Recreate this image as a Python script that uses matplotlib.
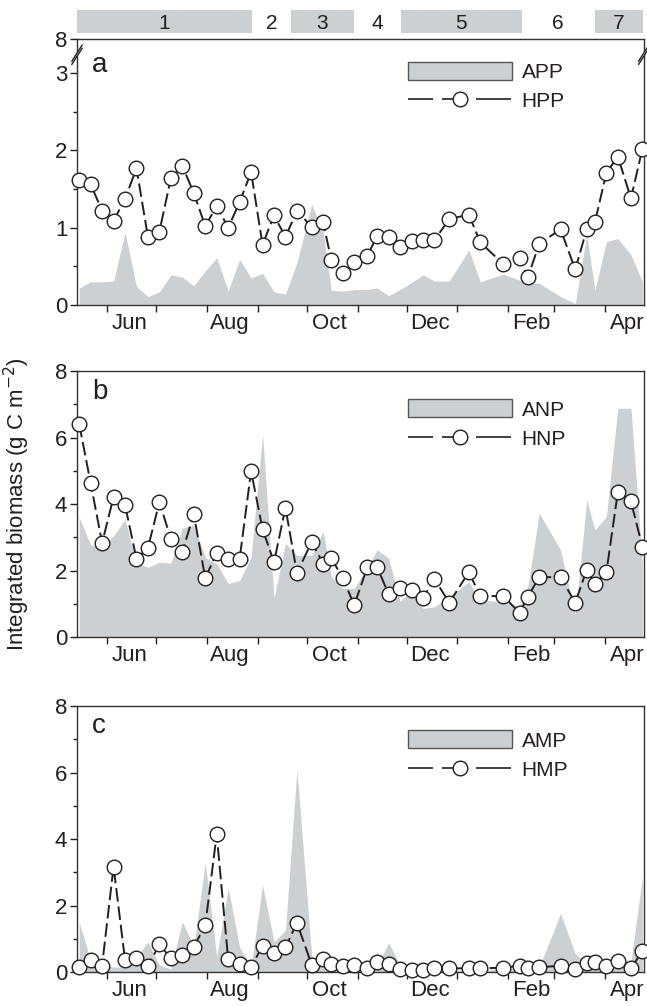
import matplotlib
matplotlib.use('Agg')
import matplotlib.pyplot as plt
import matplotlib.dates as mdates
from matplotlib.patches import Patch, Polygon
from matplotlib.lines import Line2D
import pandas as pd

plt.rcParams['font.family'] = ['Liberation Sans', 'DejaVu Sans']

# sampling dates (weekly cruises)
dates = pd.to_datetime([
    '2000-05-15', '2000-05-22', '2000-05-29', '2000-06-05', '2000-06-12',
    '2000-06-19', '2000-06-26', '2000-07-03', '2000-07-10', '2000-07-17',
    '2000-07-24', '2000-07-31', '2000-08-07', '2000-08-14', '2000-08-21',
    '2000-08-28', '2000-09-04', '2000-09-11', '2000-09-18', '2000-09-25',
    '2000-10-04', '2000-10-11', '2000-10-16', '2000-10-23', '2000-10-30',
    '2000-11-07', '2000-11-13', '2000-11-20', '2000-11-27', '2000-12-04',
    '2000-12-11', '2000-12-18', '2000-12-27', '2001-01-08', '2001-01-15',
    '2001-01-29', '2001-02-08', '2001-02-13', '2001-02-20', '2001-03-05',
    '2001-03-14', '2001-03-21', '2001-03-26', '2001-04-02', '2001-04-09',
    '2001-04-17', '2001-04-24'])

app = [0.22, 0.30, 0.30, 0.31, 0.94, 0.24, 0.11, 0.17, 0.39, 0.36,
       0.25, 0.44, 0.61, 0.18, 0.59, 0.35, 0.41, 0.17, 0.14, 0.55,
       1.30, 0.95, 0.19, 0.18, 0.20, 0.20, 0.22, 0.12, 0.20, 0.29,
       0.39, 0.31, 0.31, 0.71, 0.30, 0.40, 0.32, 0.30, 0.28, 0.11,
       0.02, 0.91, 0.19, 0.82, 0.86, 0.65, 0.30]
hpp = [1.62, 1.56, 1.22, 1.09, 1.37, 1.77, 0.88, 0.95, 1.64, 1.80,
       1.45, 1.02, 1.28, 1.00, 1.33, 1.72, 0.78, 1.16, 0.88, 1.22,
       1.01, 1.07, 0.58, 0.41, 0.56, 0.64, 0.89, 0.88, 0.75, 0.83,
       0.84, 0.84, 1.11, 1.17, 0.81, 0.53, 0.61, 0.36, 0.79, 0.98,
       0.46, 0.98, 1.07, 1.71, 1.92, 1.38, 2.02]

anp = [3.60, 2.77, 2.70, 3.04, 3.54, 2.22, 2.10, 2.25, 2.22, 3.27,
       3.37, 2.40, 2.20, 1.61, 1.70, 2.40, 6.10, 1.16, 2.82, 2.45,
       2.45, 3.17, 1.81, 1.46, 1.46, 2.11, 2.62, 2.37, 1.06, 1.41,
       0.86, 0.91, 1.21, 1.66, 1.11, 1.06, 0.91, 1.50, 3.72, 2.62,
       0.66, 4.12, 3.22, 3.62, 6.88, 6.88, 2.22]
hnp = [6.41, 4.63, 2.83, 4.21, 3.97, 2.35, 2.68, 4.06, 2.95, 2.56,
       3.70, 1.77, 2.53, 2.35, 2.35, 4.99, 3.24, 2.25, 3.89, 1.92,
       2.86, 2.21, 2.37, 1.77, 0.96, 2.10, 2.10, 1.29, 1.48, 1.41,
       1.17, 1.75, 1.03, 1.95, 1.23, 1.23, 0.73, 1.21, 1.80, 1.80,
       1.03, 2.03, 1.59, 1.95, 4.36, 4.08, 2.71]

amp = [1.51, 0.35, 0.20, 0.15, 0.15, 0.45, 0.91, 0.20, 0.10, 1.51,
       0.76, 3.30, 0.46, 2.52, 0.75, 0.15, 2.62, 0.91, 1.26, 6.10,
       0.50, 0.15, 0.10, 0.10, 0.10, 0.10, 0.15, 0.88, 0.20, 0.10,
       0.05, 0.05, 0.05, 0.05, 0.05, 0.10, 0.10, 0.10, 0.15, 1.76,
       0.55, 0.25, 0.20, 0.15, 0.20, 0.30, 2.87]
hmp = [0.14, 0.36, 0.19, 3.17, 0.36, 0.41, 0.18, 0.83, 0.41, 0.50,
       0.76, 1.40, 4.14, 0.38, 0.24, 0.14, 0.79, 0.56, 0.74, 1.48,
       0.22, 0.38, 0.24, 0.18, 0.20, 0.12, 0.30, 0.24, 0.10, 0.06,
       0.06, 0.11, 0.11, 0.11, 0.11, 0.13, 0.19, 0.13, 0.14, 0.19,
       0.08, 0.28, 0.29, 0.19, 0.34, 0.11, 0.63]

# hydrographic periods shown above panel a
period_names = ['1', '2', '3', '4', '5', '6', '7']
period_edges = pd.to_datetime([
    '2000-05-13 16:00', '2000-08-28 12:00', '2000-09-21 08:00',
    '2000-10-29 20:00', '2000-11-27 12:00', '2001-02-09 08:00',
    '2001-03-25 20:00', '2001-04-24 08:00'])
period_shaded = [True, False, True, False, True, False, True]

month_labels = ['Jun', 'Aug', 'Oct', 'Dec', 'Feb', 'Apr']
month_label_dates = pd.to_datetime(['2000-06-15', '2000-08-15', '2000-10-15',
                                    '2000-12-15', '2001-02-15', '2001-04-15'])

panels = [('a', app, hpp, 'APP', 'HPP'),
          ('b', anp, hnp, 'ANP', 'HNP'),
          ('c', amp, hmp, 'AMP', 'HMP')]

gray = '#cdd0d3'
ink = '#231f20'
dash = (0, (7, 2.5))
xlim = (pd.Timestamp('2000-05-13 16:00'), pd.Timestamp('2001-04-24 20:00'))

fig = plt.figure(figsize=(6.47, 10.06), dpi=100)
left, width, height = 0.119, 0.876, 0.2644
bottoms = [0.6968, 0.3668, 0.0338]
legend_tops = [0.915, 0.893, 0.908]
letter_y = [0.875, 0.895, 0.90]

for i, (letter, area, pts, area_lab, pts_lab) in enumerate(panels):
    ax = fig.add_axes([left, bottoms[i], width, height])
    ax.fill_between(dates, 0, area, color=gray, lw=0, zorder=1)
    ax.plot(dates, pts, ls=dash, color=ink, lw=1.4, marker='o', ms=10.5,
            mfc='white', mec=ink, mew=1.0, clip_on=False, zorder=3)
    ax.set_xlim(*xlim)

    if i == 0:
        top = 3.44
        ax.set_ylim(0, top)
        ax.set_yticks([0, 1, 2, 3, top])
        ax.set_yticklabels(['0', '1', '2', '3', '8'])
        ax.set_yticks([0.5, 1.5, 2.5], minor=True)
    else:
        ax.set_ylim(0, 8)
        ax.set_yticks([0, 2, 4, 6, 8])
        ax.set_yticks([1, 3, 5, 7], minor=True)

    ax.xaxis.set_major_locator(mdates.MonthLocator())
    ax.xaxis.set_major_formatter(plt.NullFormatter())
    ax.set_xticks(month_label_dates, minor=True)
    ax.set_xticklabels(month_labels, minor=True)
    ax.tick_params(axis='x', which='major', length=5, width=1, color=ink)
    ax.tick_params(axis='x', which='minor', length=0, pad=6,
                   labelsize=16, labelcolor=ink)
    ax.tick_params(axis='y', which='major', length=5, width=1, color=ink,
                   labelsize=16, labelcolor=ink, pad=2)
    ax.tick_params(axis='y', which='minor', length=3, width=1, color=ink)
    for s in ax.spines.values():
        s.set_linewidth(1.0)
        s.set_color('#333333')

    ax.text(0.026, letter_y[i], letter, transform=ax.transAxes,
            fontsize=20, color=ink, va='baseline', ha='left')

    handles = [Patch(facecolor=gray, edgecolor='#555555', lw=1),
               Line2D([], [], ls=(0, (15, 5.4, 6.6, 13.8, 21, 5)), color=ink,
                      lw=1.2, marker='o', ms=10.5, mfc='white', mec=ink,
                      mew=1.0)]
    ax.legend(handles, [area_lab, pts_lab], loc='upper left',
              bbox_to_anchor=(0.584, legend_tops[i]), frameon=False,
              fontsize=15, handlelength=5.0, handleheight=0.95,
              handletextpad=0.45, labelspacing=0.45, borderpad=0,
              borderaxespad=0, labelcolor=ink)

    if i == 0:
        # axis break marks on both sides
        for xc in (0.0, 1.0):
            dx, dy, sep = 0.009, 0.03, 0.012
            yc = 0.935
            poly = Polygon([(xc - dx, yc - dy), (xc + dx, yc + dy),
                            (xc + dx, yc + dy + sep), (xc - dx, yc - dy + sep)],
                           closed=True, facecolor='white', edgecolor='none',
                           transform=ax.transAxes, clip_on=False, zorder=5)
            ax.add_patch(poly)
            for off in (0, sep):
                ax.add_line(Line2D([xc - dx, xc + dx],
                                   [yc - dy + off, yc + dy + off],
                                   transform=ax.transAxes, color=ink, lw=1,
                                   clip_on=False, zorder=6))

fig.text(17 / 647, 0.499, 'Integrated biomass (g C m$^{-2}$)',
         rotation=90, va='center', ha='center', fontsize=16, color=ink)

# period bar
axp = fig.add_axes([left, 0.9672, width, 0.0229])
axp.set_xlim(*xlim)
axp.set_ylim(0, 1)
axp.axis('off')
for name, x0, x1, shaded in zip(period_names, period_edges[:-1],
                                period_edges[1:], period_shaded):
    if shaded:
        axp.axvspan(x0, x1, color=gray, lw=0)
    axp.text(x0 + (x1 - x0) / 2, 0.42, name, ha='center', va='center',
             fontsize=15, color=ink)

fig.savefig('out.png', dpi=100)
